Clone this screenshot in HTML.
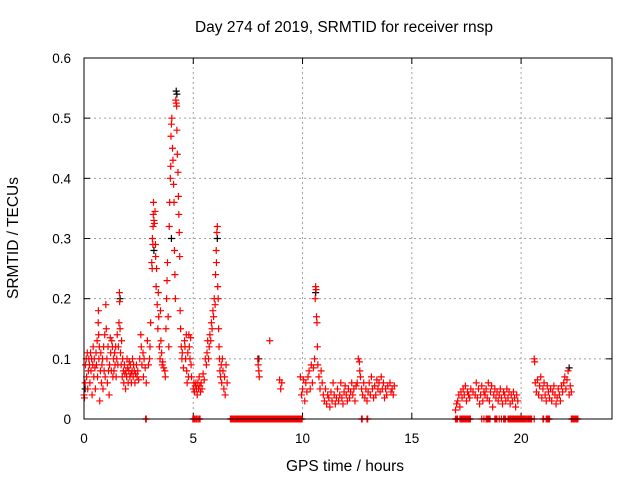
<!DOCTYPE html>
<html><head><meta charset="utf-8"><style>
html,body{margin:0;padding:0;background:#fff;}
svg{display:block;font-family:"Liberation Sans",sans-serif;}
</style></head><body>
<svg id="chart" width="640" height="480" viewBox="0 0 640 480" xmlns="http://www.w3.org/2000/svg">
<rect width="640" height="480" fill="#fff"/>
<text x="344" y="32" font-size="15.5" text-anchor="middle">Day 274 of 2019, SRMTID for receiver rnsp</text>
<text transform="translate(18,238) rotate(-90)" font-size="15.5" text-anchor="middle">SRMTID / TECUs</text>
<text x="345" y="471" font-size="15.5" text-anchor="middle">GPS time / hours</text>
<g id="grid"></g>
<g id="ticks"></g>
<g id="marks"></g>
<rect x="84" y="58" width="528" height="361" fill="none" stroke="#000" stroke-width="1"/>
</svg>
<script>
const xTicks=[0,5,10,15,20];
const yTicks=[0,0.1,0.2,0.3,0.4,0.5,0.6];
const yTickLabels=["0","0.1","0.2","0.3","0.4","0.5","0.6"];
const seriesRed=[
[0,0.04],[0.02,0.035],[0.05,0.06],[0.07,0.09],[0.1,0.1],[0.12,0.07],[0.15,0.11],[0.17,0.05],[0.2,0.08],[0.22,0.1],[0.25,0.09],[0.27,0.06],[0.3,0.11],[0.32,0.08],[0.35,0.1],[0.37,0.04],[0.4,0.09],[0.42,0.12],[0.45,0.07],[0.47,0.1],[0.5,0.085],[0.52,0.05],[0.55,0.11],[0.57,0.09],[0.6,0.13],[0.62,0.07],[0.65,0.16],[0.66,0.18],[0.67,0.14],[0.68,0.1],[0.7,0.12],[0.72,0.03],[0.75,0.08],[0.77,0.11],[0.8,0.06],[0.82,0.09],[0.85,0.1],[0.87,0.05],[0.9,0.12],[0.92,0.08],[0.95,0.14],[0.97,0.07],[1.0,0.19],[1.02,0.15],[1.05,0.1],[1.07,0.06],[1.1,0.12],[1.12,0.08],[1.15,0.04],[1.17,0.09],[1.2,0.135],[1.22,0.11],[1.25,0.08],[1.27,0.13],[1.3,0.12],[1.32,0.07],[1.35,0.1],[1.37,0.08],[1.4,0.11],[1.42,0.09],[1.45,0.12],[1.47,0.07],[1.5,0.1],[1.52,0.14],[1.55,0.09],[1.57,0.12],[1.6,0.16],[1.62,0.21],[1.63,0.195],[1.65,0.15],[1.67,0.11],[1.7,0.09],[1.72,0.13],[1.75,0.07],[1.77,0.1],[1.8,0.08],[1.82,0.06],[1.85,0.09],[1.87,0.075],[1.9,0.05],[1.92,0.08],[1.95,0.07],[1.97,0.1],[2.0,0.085],[2.02,0.06],[2.05,0.08],[2.07,0.095],[2.1,0.07],[2.12,0.09],[2.15,0.075],[2.17,0.06],[2.2,0.08],[2.22,0.1],[2.25,0.07],[2.27,0.09],[2.3,0.08],[2.33,0.06],[2.36,0.075],[2.4,0.09],[2.43,0.07],[2.46,0.08],[2.5,0.065],
[2.55,0.1],[2.6,0.14],[2.62,0.12],[2.65,0.09],[2.7,0.11],[2.72,0.07],[2.75,0.1],[2.8,0.085],[2.85,0.06],[2.9,0.13],[2.95,0.09],[3.0,0.1],[3.02,0.12],[3.05,0.16],
[3.1,0.26],[3.12,0.25],[3.13,0.3],[3.15,0.29],[3.16,0.32],[3.17,0.34],[3.18,0.36],[3.2,0.33],[3.22,0.325],[3.25,0.345],[3.27,0.29],[3.28,0.27],[3.3,0.22],[3.32,0.25],[3.35,0.19],[3.38,0.15],[3.4,0.21],[3.42,0.17],[3.45,0.12],[3.48,0.1],[3.5,0.18],[3.52,0.13],[3.55,0.11],[3.58,0.09],[3.6,0.095],[3.65,0.085],[3.7,0.08],[3.72,0.07],
[3.75,0.15],[3.78,0.2],[3.8,0.23],[3.82,0.26],[3.85,0.17],[3.88,0.12],[3.9,0.32],[3.92,0.36],[3.95,0.4],[3.97,0.42],[3.98,0.47],[4.0,0.49],[4.02,0.5],[4.05,0.45],[4.07,0.43],[4.1,0.39],[4.12,0.36],[4.14,0.28],[4.16,0.24],[4.18,0.2],[4.2,0.53],[4.22,0.525],[4.24,0.52],[4.25,0.48],[4.27,0.44],[4.3,0.41],[4.32,0.37],[4.34,0.34],[4.36,0.31],[4.38,0.27],[4.4,0.18],[4.42,0.15],[4.45,0.12],[4.48,0.1],
[4.5,0.11],[4.55,0.085],[4.6,0.13],[4.62,0.12],[4.65,0.1],[4.68,0.14],[4.7,0.08],[4.72,0.06],[4.75,0.11],[4.78,0.07],[4.8,0.14],[4.82,0.12],[4.85,0.1],[4.88,0.135],[4.9,0.09],[4.92,0.07],
[5.0,0.05],[5.03,0.06],[5.06,0.045],[5.09,0.055],[5.12,0.06],[5.15,0.05],[5.18,0.04],[5.21,0.06],[5.24,0.05],[5.27,0.07],[5.3,0.055],[5.33,0.045],[5.36,0.06],[5.4,0.05],[5.45,0.075],[5.5,0.065],
[5.55,0.1],[5.6,0.09],[5.63,0.11],[5.66,0.13],[5.7,0.1],[5.73,0.12],[5.76,0.14],[5.8,0.13],[5.83,0.16],[5.86,0.15],[5.9,0.18],[5.93,0.17],[5.96,0.2],[6.0,0.19],[6.02,0.24],[6.05,0.28],[6.06,0.26],[6.08,0.31],[6.1,0.32],[6.12,0.22],[6.14,0.2],[6.16,0.15],[6.18,0.12],[6.2,0.1],
[6.22,0.08],[6.25,0.07],[6.28,0.09],[6.3,0.06],[6.33,0.1],[6.36,0.08],[6.4,0.05],[6.43,0.07],[6.46,0.04],[6.5,0.09],[6.55,0.06],
[7.95,0.1],[7.97,0.09],[8.0,0.08],[8.02,0.07],[8.5,0.13],[8.95,0.065],[9.0,0.05],[9.05,0.06],
[9.9,0.07],[9.95,0.04],[10.0,0.05],[10.05,0.065],[10.1,0.03],[10.15,0.06],[10.2,0.045],[10.25,0.07],[10.3,0.08],[10.35,0.05],[10.4,0.09],[10.45,0.06],[10.5,0.085],[10.55,0.1],[10.58,0.2],[10.6,0.22],[10.62,0.215],[10.64,0.17],[10.66,0.16],[10.68,0.12],[10.7,0.09],[10.75,0.07],[10.8,0.05],[10.85,0.08],[10.9,0.06],[10.95,0.04],[11.0,0.03],[11.05,0.05],[11.1,0.025],[11.15,0.04],[11.2,0.035],[11.25,0.02],[11.3,0.045],[11.35,0.03],[11.4,0.06],[11.45,0.04],[11.5,0.025],[11.55,0.035],[11.6,0.05],[11.65,0.03],[11.7,0.04],[11.75,0.06],[11.8,0.035],[11.85,0.025],[11.9,0.045],[11.95,0.055],[12.0,0.04],[12.05,0.03],[12.1,0.05],[12.15,0.035],[12.2,0.045],[12.25,0.06],[12.3,0.04],[12.35,0.05],[12.4,0.03],[12.45,0.055],[12.5,0.06],[12.55,0.1],[12.6,0.095],[12.62,0.08],[12.65,0.07],[12.7,0.05],[12.75,0.04],[12.8,0.06],[12.85,0.035],[12.9,0.05],[12.95,0.03],[13.0,0.045],[13.05,0.06],[13.1,0.04],[13.15,0.07],[13.2,0.05],[13.25,0.035],[13.3,0.055],[13.35,0.04],[13.4,0.065],[13.45,0.05],[13.5,0.06],[13.55,0.045],[13.6,0.07],[13.65,0.05],[13.7,0.06],[13.75,0.035],[13.8,0.05],[13.85,0.04],[13.9,0.055],[14.0,0.06],[14.05,0.045],[14.1,0.05],[14.15,0.04],[14.2,0.055],
[17.0,0.015],[17.05,0.025],[17.1,0.03],[17.15,0.04],[17.2,0.02],[17.25,0.045],[17.3,0.035],[17.35,0.05],[17.4,0.04],[17.45,0.055],[17.5,0.03],[17.55,0.045],[17.6,0.04],[17.65,0.035],[17.7,0.05],[17.8,0.045],[17.9,0.04],[17.95,0.06],[18.0,0.035],[18.05,0.05],[18.1,0.025],[18.15,0.04],[18.2,0.055],[18.25,0.03],[18.3,0.045],[18.35,0.04],[18.4,0.05],[18.45,0.035],[18.5,0.06],[18.55,0.03],[18.6,0.045],[18.65,0.055],[18.7,0.02],[18.75,0.04],[18.8,0.05],[18.85,0.035],[18.9,0.045],[18.95,0.03],[19.0,0.04],[19.05,0.05],[19.1,0.035],[19.15,0.025],[19.2,0.045],[19.25,0.04],[19.3,0.03],[19.35,0.05],[19.4,0.035],[19.45,0.045],[19.5,0.025],[19.55,0.04],[19.6,0.03],[19.65,0.045],[19.7,0.035],[19.75,0.02],[19.8,0.04],[19.85,0.03],
[20.6,0.1],[20.62,0.095],[20.65,0.06],[20.7,0.045],[20.75,0.065],[20.8,0.04],[20.85,0.055],[20.9,0.07],[20.95,0.035],[21.0,0.05],[21.05,0.06],[21.1,0.04],[21.15,0.03],[21.2,0.055],[21.25,0.045],[21.3,0.035],[21.35,0.05],[21.4,0.03],[21.45,0.045],[21.5,0.055],[21.55,0.04],[21.6,0.025],[21.65,0.035],[21.7,0.05],[21.75,0.04],[21.8,0.03],[21.85,0.055],[21.9,0.045],[21.95,0.06],[22.0,0.07],[22.05,0.05],[22.1,0.065],[22.15,0.08],[22.2,0.04],[22.25,0.055],[22.3,0.045]
];
const seriesBlack=[[0.05,0.05],[1.65,0.2],[3.2,0.28],[4.0,0.3],[4.22,0.545],[4.25,0.54],[6.1,0.3],[8.0,0.1],[10.6,0.21],[22.2,0.085]];
const zeroSpans=[[2.82,2.86],[4.98,5.02],[5.06,5.1],[5.15,5.2],[5.25,5.32],[6.7,8.72],[8.75,9.98],[12.7,12.75],[12.95,13.0],[17.0,17.1],[17.2,17.7],[18.2,18.22],[18.3,18.32],[18.4,18.6],[18.8,18.9],[19.0,19.02],[19.1,19.12],[19.2,19.3],[19.4,20.25],[20.3,20.5],[20.6,20.62],[21.0,21.05],[21.15,21.3],[22.3,22.6]];

const X0=84,X1=612,Y0=419,Y1=58,XMAX=24.16,YMAX=0.6;
function sx(v){return X0+(v/XMAX)*(X1-X0);}
function sy(v){return Y0-(v/YMAX)*(Y0-Y1);}
const NS="http://www.w3.org/2000/svg";
function mk(tag,attrs,parent){const e=document.createElementNS(NS,tag);for(const k in attrs)e.setAttribute(k,attrs[k]);parent.appendChild(e);return e;}
const grid=document.getElementById('grid'),ticks=document.getElementById('ticks'),marks=document.getElementById('marks');
xTicks.forEach((t,i)=>{
  const x=sx(t);
  if(i>0){const g=mk('line',{x1:x,x2:x,y1:Y0,y2:Y1,stroke:'#a0a0a0','stroke-dasharray':'2,3'},grid);
  
  }
  mk('line',{x1:x,x2:x,y1:Y0,y2:Y0-6,stroke:'#000'},ticks);
  mk('line',{x1:x,x2:x,y1:Y1,y2:Y1+6,stroke:'#000'},ticks);
  const l=mk('text',{x:x,y:443,'font-size':13.5,'text-anchor':'middle'},ticks);
  l.textContent=String(t);
  
  
});
yTicks.forEach((t,i)=>{
  const y=sy(t);
  if(i>0&&i<yTicks.length-1){const g=mk('line',{x1:X0,x2:X1,y1:y,y2:y,stroke:'#a0a0a0','stroke-dasharray':'2,3'},grid);
  
  }
  mk('line',{x1:X0,x2:X0+6,y1:y,y2:y,stroke:'#000'},ticks);
  mk('line',{x1:X1,x2:X1-6,y1:y,y2:y,stroke:'#000'},ticks);
  const l=mk('text',{x:71,y:y+5,'font-size':13.5,'text-anchor':'end'},ticks);
  l.textContent=yTickLabels[i];
  
  
});
function plus(t,v,color,name){
  const x=sx(t),y=sy(v),h=3.5;
  const p=mk('path',{d:`M${x-h},${y}H${x+h}M${x},${y-h}V${y+h}`,stroke:color,'stroke-width':1.2,fill:'none'},marks);
  
  
}
seriesBlack.forEach(d=>plus(d[0],d[1],'#000','black-point'));
seriesRed.forEach(d=>plus(d[0],d[1],'#f00','red-point'));
zeroSpans.forEach(s=>{for(let t=s[0];t<=s[1]+1e-9;t+=0.03)plus(t,0,'#f00','zero-point');});
</script>
</body></html>
